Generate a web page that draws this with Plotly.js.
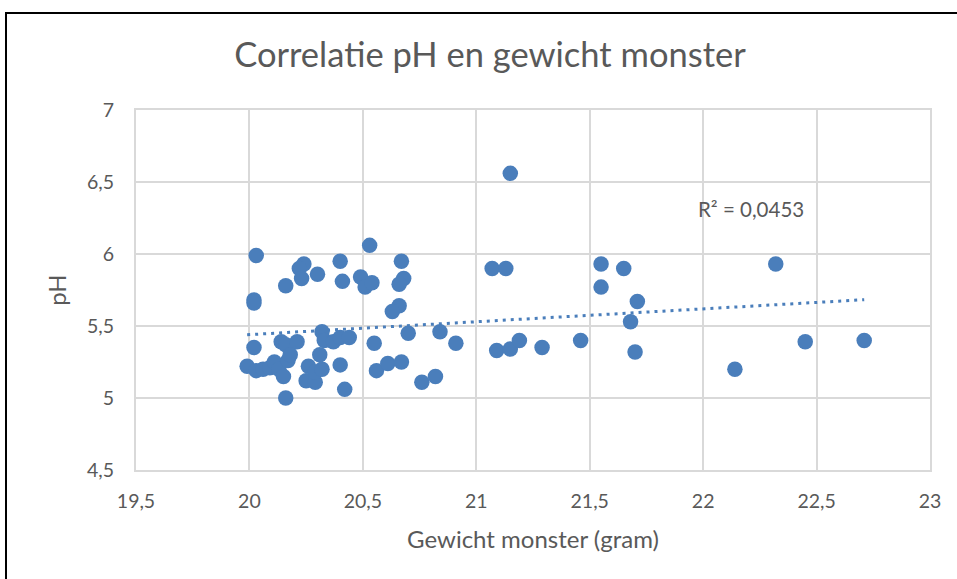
<!DOCTYPE html>
<html>
<head>
<meta charset="utf-8">
<script src="https://cdn.plot.ly/plotly-3.0.1.min.js"></script>
<style>
  html, body { margin: 0; padding: 0; background: #fff; }
  #wrap { position: relative; width: 957px; height: 579px; overflow: hidden; }
  #chart { width: 957px; height: 579px; }
  #frame { position: absolute; left: 5px; top: 12px; width: 1000px; height: 700px; border: 2px solid #000; box-sizing: border-box; pointer-events: none; }
</style>
</head>
<body>
<div id="wrap"><div id="chart"></div><div id="frame"></div></div>
<script>
// Gewicht monster (gram)
const weight = [
  19.99, 20.02, 20.03, 20.06, 20.09, 20.11, 20.13, 20.14, 20.16, 20.21,
  20.15, 20.17, 20.18, 20.16, 20.25, 20.26, 20.29, 20.29, 20.31, 20.32,
  20.33, 20.32, 20.37, 20.40, 20.44, 20.40, 20.42, 20.55, 20.56, 20.61,
  20.67, 20.70, 20.84, 20.91, 20.76, 20.82,
  20.03, 20.02, 20.02, 20.16, 20.24, 20.22, 20.23, 20.30, 20.40, 20.41,
  20.53, 20.67, 20.49, 20.51, 20.54, 20.68, 20.66, 20.66, 20.63,
  21.15, 21.07, 21.13, 21.55, 21.65, 21.55, 21.71, 21.68, 21.09, 21.15,
  21.19, 21.29, 21.46, 21.70, 22.32, 22.14, 22.45, 22.71
];
// pH
const ph = [
  5.22, 5.35, 5.19, 5.20, 5.21, 5.25, 5.20, 5.39, 5.37, 5.39,
  5.15, 5.26, 5.30, 5.00, 5.12, 5.22, 5.11, 5.18, 5.30, 5.46,
  5.40, 5.20, 5.39, 5.42, 5.42, 5.23, 5.06, 5.38, 5.19, 5.24,
  5.25, 5.45, 5.46, 5.38, 5.11, 5.15,
  5.99, 5.68, 5.66, 5.78, 5.93, 5.90, 5.83, 5.86, 5.95, 5.81,
  6.06, 5.95, 5.84, 5.77, 5.80, 5.83, 5.79, 5.64, 5.60,
  6.56, 5.90, 5.90, 5.93, 5.90, 5.77, 5.67, 5.53, 5.33, 5.34,
  5.40, 5.35, 5.40, 5.32, 5.93, 5.20, 5.39, 5.40
];
const xTicks = [19.5, 20, 20.5, 21, 21.5, 22, 22.5, 23];
const yTicks = [4.5, 5, 5.5, 6, 6.5, 7];
const titleText = 'Correlatie pH en gewicht monster';
const xTitle = 'Gewicht monster (gram)';
const yTitle = 'pH';
const r2Label = 'R² = 0,0453';

// least-squares trendline from the data
const n = weight.length;
const mx = weight.reduce((a, b) => a + b, 0) / n;
const my = ph.reduce((a, b) => a + b, 0) / n;
let sxy = 0, sxx = 0;
for (let i = 0; i < n; i++) { sxy += (weight[i] - mx) * (ph[i] - my); sxx += (weight[i] - mx) ** 2; }
const slope = sxy / sxx, icpt = my - slope * mx;
const xmin = Math.min(...weight), xmax = Math.max(...weight);
const trendX = [xmin, xmax];
const trendY = trendX.map(v => icpt + slope * v);

const blue = '#4A7EBB';
const fontFam = 'Lato, "Open Sans", sans-serif';
const grey = '#595959';

const data = [
  { x: trendX, y: trendY, mode: 'lines', type: 'scatter',
    line: { color: blue, width: 3, dash: '3px,5px' }, hoverinfo: 'skip' },
  { x: weight, y: ph, mode: 'markers', type: 'scatter',
    marker: { color: blue, size: 15.5, line: { color: blue, width: 0 } } }
];

const layout = {
  width: 957, height: 579,
  margin: { l: 135.5, r: 27, t: 110, b: 109 },
  paper_bgcolor: '#fff', plot_bgcolor: '#fff',
  showlegend: false,
  separators: ', ',
  font: { family: fontFam, color: grey },
  title: { text: titleText, font: { family: fontFam, size: 34.5, color: grey },
           x: 0.512, xanchor: 'center', y: 0.905, yanchor: 'middle' },
  xaxis: {
    range: [19.5, 23], tickvals: xTicks, ticktext: xTicks.map(v => String(v).replace('.', ',')),
    showgrid: true, gridcolor: '#d9d9d9', gridwidth: 2,
    showline: true, mirror: true, linecolor: '#d9d9d9', linewidth: 2,
    zeroline: false, ticks: '', ticklabelstandoff: 13,
    tickfont: { family: fontFam, size: 19.5, color: grey },
    title: { text: xTitle, font: { family: fontFam, size: 24, color: grey }, standoff: 20 }
  },
  yaxis: {
    range: [4.5, 7], tickvals: yTicks, ticktext: yTicks.map(v => String(v).replace('.', ',')),
    showgrid: true, gridcolor: '#d9d9d9', gridwidth: 2,
    showline: true, mirror: true, linecolor: '#d9d9d9', linewidth: 2,
    zeroline: false, ticks: '', ticklabelstandoff: 16,
    tickfont: { family: fontFam, size: 19.5, color: grey },
    title: { text: yTitle, font: { family: fontFam, size: 24, color: grey }, standoff: 14 }
  },
  annotations: [
    { x: 22.21, y: 6.31, xref: 'x', yref: 'y', text: r2Label, showarrow: false,
      font: { family: fontFam, size: 20.5, color: grey } }
  ]
};

Plotly.newPlot('chart', data, layout, { displayModeBar: false, staticPlot: true });
</script>
</body>
</html>
